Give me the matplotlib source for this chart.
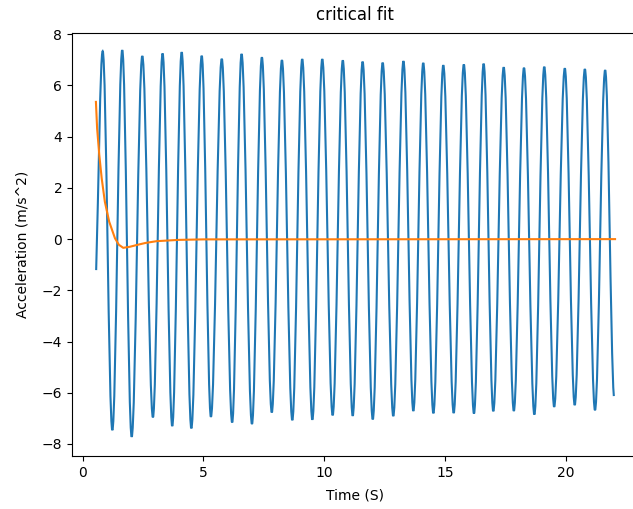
import numpy as np
import matplotlib
matplotlib.use('Agg')
import matplotlib.pyplot as plt
from matplotlib.path import Path
from matplotlib.patches import PathPatch

# measured acceleration: start point, crests, troughs, end point
start_t, start_a = 0.56, -1.21
end_t, end_a = 21.99, -6.13

peak_t = [0.83, 1.64, 2.47, 3.31, 4.10, 4.93, 5.76, 6.58, 7.42, 8.25, 9.09, 9.92, 10.77,
          11.59, 12.42, 13.28, 14.10, 14.93, 15.78, 16.60, 17.43, 18.27, 19.11, 19.96, 20.79, 21.63]
peak_a = [7.34, 7.38, 7.15, 7.25, 7.30, 7.16, 7.04, 7.23, 7.10, 6.99, 7.03, 7.03, 6.98,
          6.93, 6.89, 6.95, 6.88, 6.79, 6.82, 6.85, 6.71, 6.69, 6.73, 6.67, 6.64, 6.60]

trough_t = [1.23, 2.03, 2.91, 3.71, 4.50, 5.31, 6.19, 7.01, 7.83, 8.68, 9.51, 10.35, 11.18,
            12.01, 12.86, 13.69, 14.52, 15.36, 16.20, 17.00, 17.85, 18.70, 19.52, 20.37, 21.21]
trough_a = [-7.46, -7.72, -6.96, -7.30, -7.39, -6.94, -7.16, -7.22, -6.77, -7.07, -7.05, -6.88, -6.90,
            -7.04, -6.91, -6.71, -6.80, -6.79, -6.81, -6.72, -6.71, -6.85, -6.55, -6.48, -6.68]

# critical damping fit
fit_t = [0.55, 0.60, 0.69, 0.79, 0.92, 1.10, 1.34, 1.50, 1.68, 1.95, 2.24, 2.60, 3.06, 3.96, 5.00, 22.04]
fit_a = [5.36, 4.32, 3.28, 2.37, 1.46, 0.68, 0.03, -0.22, -0.34, -0.30, -0.23, -0.15, -0.08, -0.03, -0.01, 0.0]

# put the extrema in time order
t = np.concatenate([[start_t], peak_t, trough_t, [end_t]])
a = np.concatenate([[start_a], peak_a, trough_a, [end_a]])
order = np.argsort(t)
t = t[order]
a = a[order]


def smooth_path(t, a, k=0.363):
    '''
    join the points with cubic bezier pieces, flat at every turning point,
    so the oscillation is drawn round instead of as a zigzag
    '''
    verts = [(t[0], a[0])]
    codes = [Path.MOVETO]
    for i in range(1, len(t)):
        dt = t[i] - t[i-1]
        if i == 1:
            c1 = (t[0] + k*dt, a[0] + k*(a[1] - a[0]))
        else:
            c1 = (t[i-1] + k*dt, a[i-1])
        if i == len(t) - 1:
            c2 = (t[i] - k*dt, a[i] - k*(a[i] - a[i-1]) * 0.3)
        else:
            c2 = (t[i] - k*dt, a[i])
        verts += [c1, c2, (t[i], a[i])]
        codes += [Path.CURVE4]*3
    return Path(verts, codes)


fig = plt.figure(figsize=(6.33, 5.09), dpi=100)
ax = fig.add_axes([72 / 633, 1 - 456 / 509, 566 / 633, 423 / 509])

ax.add_patch(PathPatch(smooth_path(t, a), fill=False, edgecolor='C0', linewidth=1.5))
ax.plot(fit_t, fit_a, color='C1', linewidth=1.5)

ax.set_xlim(-0.44, 22.99)
ax.set_ylim(-8.47, 8.05)
ax.set_title('critical fit', pad=9)
ax.set_xlabel('Time (S)', labelpad=6)
ax.set_ylabel('Acceleration (m/s^2)', labelpad=9)

fig.savefig('out.png', dpi=100)
